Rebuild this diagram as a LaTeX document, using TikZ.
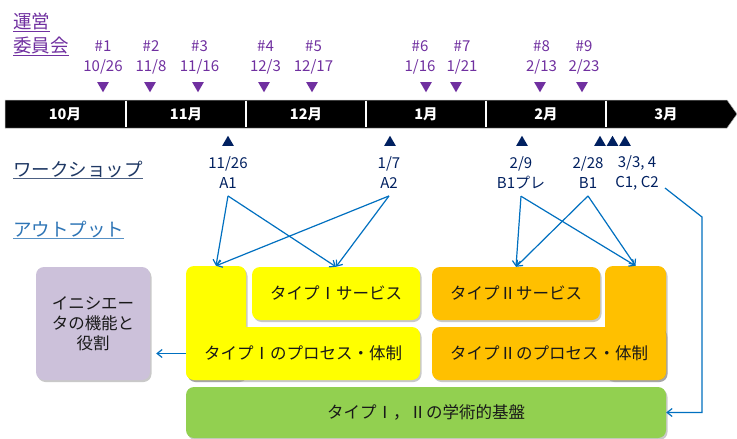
\documentclass[tikz,border=0pt]{standalone}
\usepackage{fontspec}
\setmainfont{Noto Sans CJK JP}
\usetikzlibrary{shapes.geometric,arrows.meta,shadows,backgrounds,calc}
\definecolor{cpurple}{HTML}{7030A0}
\definecolor{cnavy}{HTML}{002060}
\definecolor{cws}{HTML}{1F3864}
\definecolor{cblue}{HTML}{0070C0}
\definecolor{cout}{HTML}{2E75B6}
\definecolor{cyel}{HTML}{FFFF00}
\definecolor{corg}{HTML}{FFC000}
\definecolor{cgrn}{HTML}{92D050}
\definecolor{clav}{HTML}{CCC1DA}
\newcommand\myul[2]{\setbox0\hbox{#2}\leavevmode\rlap{\color{#1}\raisebox{-3.2pt}{\rule{\wd0}{1.3pt}}}\box0}
\tikzset{
  lbl/.style={inner sep=0pt, align=center, font=\fontsize{15}{20}\selectfont},
  clab/.style={lbl, text=cpurple},
  wlab/.style={lbl, text=cnavy, outer ysep=7pt},
  ctri/.style={regular polygon, regular polygon sides=3, shape border rotate=180,
    fill=cpurple, draw=none, inner sep=0pt, minimum size=13.5pt},
  wtri/.style={regular polygon, regular polygon sides=3,
    fill=cnavy, draw=none, inner sep=0pt, minimum size=13.5pt},
  month/.style={text=white, font=\fontsize{14.5}{16}\selectfont\bfseries},
  box/.style={rounded corners=8pt, inner sep=0pt, align=center,
    font=\fontsize{16.5}{20}\selectfont, text=black!90,
    drop shadow={shadow xshift=1.5pt, shadow yshift=-2pt, opacity=0.35, fill=black!60}},
  cline/.style={cblue, line width=1.2pt},
  arr/.style={cline, -{Straight Barb[length=5pt,width=8pt]}},
}
\begin{document}
\begin{tikzpicture}[x=1pt,y=-1pt]
\useasboundingbox (0,0) rectangle (737,439);
\fill[white] (0,0) rectangle (737,439);

% side labels
\node[anchor=north west, inner sep=0pt, align=left, text=cpurple,
  font=\fontsize{18.5}{24}\selectfont] (committee) at (13,13)
  {\myul{cpurple}{運営}\\\myul{cpurple}{委員会}};
\node[anchor=west, inner sep=0pt, text=cws, font=\fontsize{18.5}{22}\selectfont]
  (workshop) at (13,170) {\myul{cws!80}{ワークショップ}};
\node[anchor=west, inner sep=0pt, text=cout, font=\fontsize{18.5}{22}\selectfont]
  (output) at (13,230) {\myul{cout!80}{アウトプット}};

% timeline
\fill[black, draw=gray!60, line width=0.5pt]
  (5,100) -- (727,100) -- (737,114) -- (727,128) -- (5,128) -- cycle;
\foreach \xx in {126,246,366,486,606}
  \draw[white, line width=1.8pt] (\xx,100.6) -- (\xx,127.4);
\node[month] (m10) at (65,114) {10月};
\node[month] (m11) at (186,114) {11月};
\node[month] (m12) at (306,114) {12月};
\node[month] (m1) at (426,114) {1月};
\node[month] (m2) at (546,114) {2月};
\node[month] (m3) at (666,114) {3月};

% committee meetings
\foreach \nm/\xx/\lx/\num/\dt in {c1/103/103/1/10\slash26, c2/150/151/2/11\slash8,
  c3/198/199.5/3/11\slash16, c4/264/265.5/4/12\slash3, c5/312/313.5/5/12\slash17,
  c6/426/420/6/1\slash16, c7/456/462/7/1\slash21,
  c8/540/541.5/8/2\slash13, c9/582/584/9/2\slash23}{
  \node[clab] (\nm l) at (\lx,57) {\#\num\\\dt};
  \node[ctri] (\nm t) at (\xx,85.5) {};
}

% workshops
\node[wtri] (wa1) at (228,142.5) {};
\node[wtri] (wa2) at (390,142.5) {};
\node[wtri] (wbp) at (522,142.5) {};
\node[wtri] (wb1) at (600,142.5) {};
\node[wtri] (wc1) at (612.5,142.5) {};
\node[wtri] (wc2) at (625,142.5) {};
\node[wlab] (a1l) at (228,173) {11/26\\A1};
\node[wlab] (a2l) at (389,173) {1/7\\A2};
\node[wlab] (bpl) at (521,173) {2/9\\B1プレ};
\node[wlab] (b1l) at (588,173) {2/28\\B1};
\node[wlab] (c12l) at (637,173) {3/3, 4\\C1, C2};

% boxes
\node[box, fill=clav, minimum width=114pt, minimum height=113pt] (init) at (93,323.5)
  {イニシエー\\タの機能と\\役割};
\node[box, fill=cyel, minimum width=60pt, minimum height=114pt] (ycol) at (216,323) {};
\node[box, fill=cyel, minimum width=168pt, minimum height=53pt] (s1) at (336,293.5) {タイプⅠサービス};
\node[box, fill=cyel, minimum width=234pt, minimum height=53pt] (p1) at (303,353.5) {タイプⅠのプロセス・体制};
\node[box, fill=corg, minimum width=168pt, minimum height=53pt] (s2) at (516,293.5) {タイプⅡサービス};
\node[box, fill=corg, minimum width=61pt, minimum height=114pt] (ocol) at (635.5,323) {};
\node[box, fill=corg, minimum width=234pt, minimum height=53pt] (p2) at (549,353.5) {タイプⅡのプロセス・体制};
\node[box, fill=cgrn, minimum width=480pt, minimum height=51pt] (g) at (426,412.5) {タイプⅠ，Ⅱの学術的基盤};

% connectors
\coordinate (cst) at (665,188);
\coordinate (bend) at (702,217);
\begin{pgfonlayer}{background}
  \draw[arr] (s1.east) -- (s1.east -| bend);
  \draw[arr] (p1.east) -- (p1.east -| bend);
\end{pgfonlayer}
\draw[arr, shorten >=6pt] (p1.west) -- (p1.west -| init.east);
\draw[arr] (cst) -- (bend) |- (g.east);
\draw[arr] (a1l.south) -- (ycol.north);
\draw[arr] (a1l.south) -- (s1.north);
\draw[arr] (a2l.south) -- (ycol.north);
\draw[arr] (a2l.south) -- (s1.north);
\draw[arr] (bpl.south) -- (s2.north);
\draw[arr] (bpl.south) -- (ocol.north);
\draw[arr] (b1l.south) -- (s2.north);
\draw[arr] (b1l.south) -- (ocol.north);
\end{tikzpicture}
\end{document}
